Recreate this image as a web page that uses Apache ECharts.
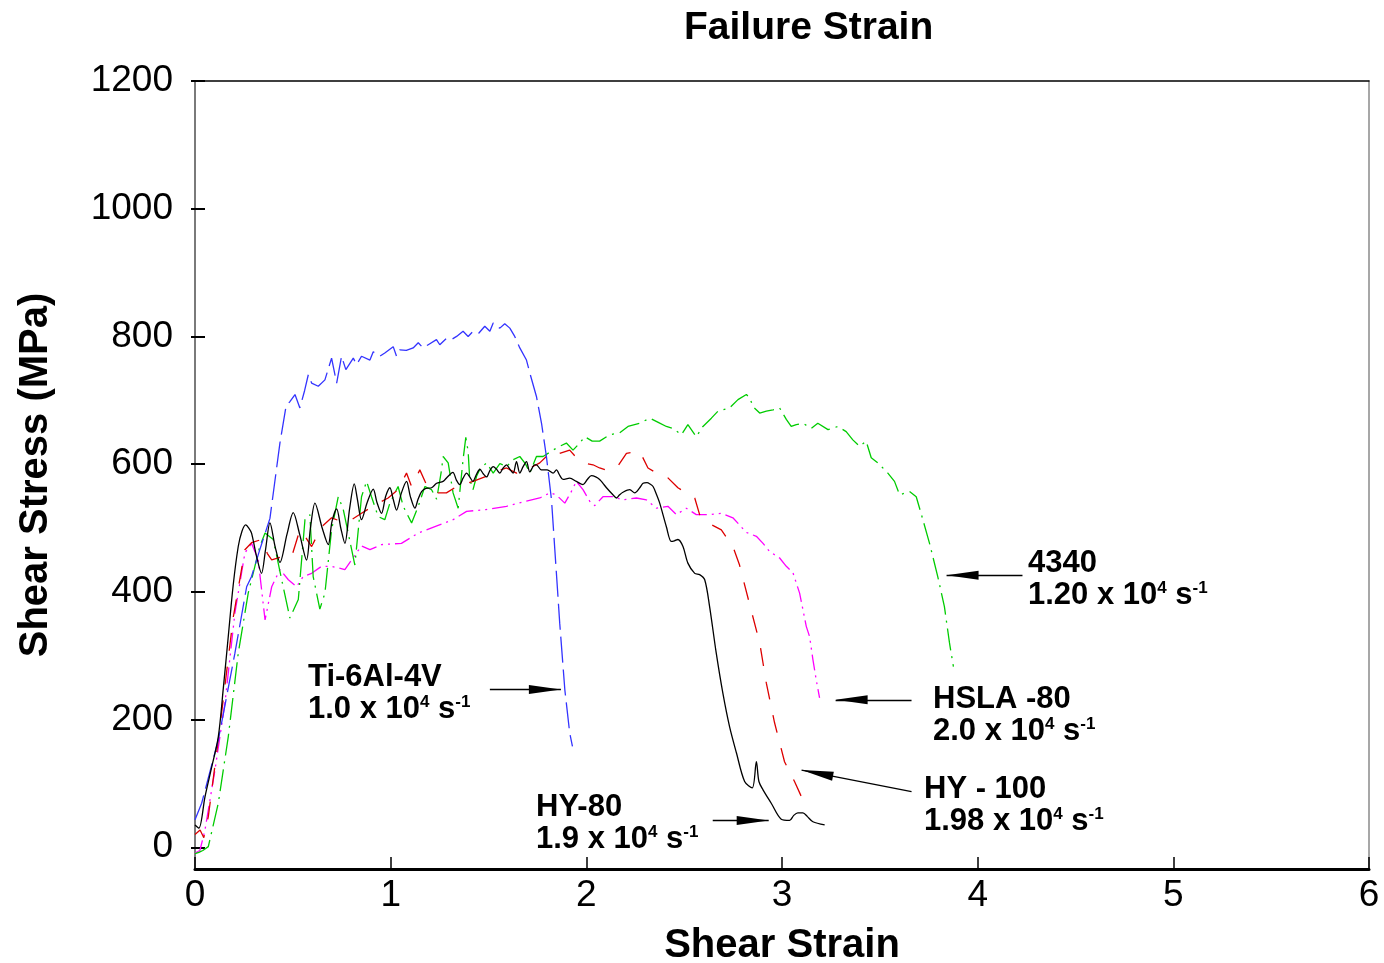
<!DOCTYPE html>
<html>
<head>
<meta charset="utf-8">
<script src="https://cdn.jsdelivr.net/npm/echarts@6.0.0/dist/echarts.min.js"></script>
<style>
    html, body { margin: 0; padding: 0; background: #fff; }
    #chart { width: 1384px; height: 963px; }
</style>
</head>
<body>
<div id="chart"></div>
<script>
// shear strain / shear stress (MPa)
const hy80 = [
    [0, 35], [0.02, 30], [0.051, 79], [0.085, 125], [0.119, 173], [0.145, 250], [0.17, 330], [0.195, 410],
    [0.221, 471], [0.24, 495], [0.259, 505], [0.275, 500], [0.289, 492], [0.315, 455], [0.34, 429], [0.36, 465],
    [0.383, 508], [0.41, 470], [0.434, 446], [0.47, 490], [0.502, 524], [0.535, 490], [0.57, 450], [0.59, 500],
    [0.613, 539], [0.65, 500], [0.681, 474], [0.7, 510], [0.724, 530], [0.745, 500], [0.766, 476], [0.79, 530],
    [0.814, 569], [0.83, 545], [0.851, 513], [0.88, 540], [0.911, 561], [0.93, 540], [0.953, 523], [0.975, 550],
    [0.996, 563], [1.013, 545], [1.03, 528], [1.055, 555], [1.081, 573], [1.1, 550], [1.124, 531], [1.14, 545],
    [1.158, 557], [1.18, 562], [1.209, 563], [1.235, 570], [1.268, 573], [1.29, 580], [1.318, 587], [1.336, 575],
    [1.353, 568], [1.37, 578], [1.388, 586], [1.404, 580], [1.42, 573], [1.44, 585], [1.456, 592], [1.473, 585],
    [1.49, 580], [1.507, 590], [1.524, 596], [1.541, 592], [1.558, 586], [1.575, 594], [1.592, 599], [1.609, 592],
    [1.626, 586], [1.643, 604], [1.66, 586], [1.677, 596], [1.694, 604], [1.711, 588], [1.736, 599], [1.745, 599],
    [1.77, 591], [1.8, 591], [1.83, 586], [1.847, 591], [1.865, 582], [1.881, 576], [1.915, 578], [1.949, 573],
    [1.983, 568], [2.005, 576], [2.026, 582], [2.048, 580], [2.068, 576], [2.085, 570], [2.103, 563], [2.136, 552],
    [2.154, 547], [2.17, 552], [2.187, 556], [2.222, 560], [2.247, 555], [2.273, 563], [2.29, 570], [2.31, 571],
    [2.325, 569], [2.341, 565], [2.358, 553], [2.375, 539], [2.409, 502], [2.434, 479], [2.45, 480], [2.468, 482],
    [2.494, 471], [2.519, 445], [2.554, 429], [2.579, 427], [2.605, 419], [2.63, 377], [2.664, 304], [2.698, 241],
    [2.732, 189], [2.767, 148], [2.809, 103], [2.848, 93], [2.869, 134], [2.882, 103], [2.903, 90], [2.945, 69],
    [2.996, 44], [3.039, 42], [3.06, 50], [3.081, 54], [3.107, 54], [3.13, 48], [3.158, 40], [3.218, 35]
];

const ti6al4v = [
    [0, 43], [0.034, 69], [0.119, 168], [0.204, 304], [0.264, 408], [0.289, 424], [0.33, 465], [0.383, 515],
    [0.434, 633], [0.465, 690], [0.485, 698], [0.511, 709], [0.536, 688], [0.56, 715], [0.579, 740], [0.596, 727],
    [0.63, 722], [0.664, 732], [0.698, 766], [0.724, 727], [0.749, 769], [0.771, 748], [0.809, 766], [0.826, 756],
    [0.851, 769], [0.894, 763], [0.911, 776], [0.945, 769], [0.97, 774], [1.013, 784], [1.03, 769], [1.047, 779],
    [1.08, 778], [1.115, 782], [1.141, 790], [1.166, 782], [1.192, 787], [1.234, 795], [1.251, 787], [1.285, 797],
    [1.31, 795], [1.337, 800], [1.37, 808], [1.396, 800], [1.421, 808], [1.45, 805], [1.481, 816], [1.507, 808],
    [1.524, 821], [1.545, 815], [1.558, 813], [1.583, 820], [1.609, 813], [1.634, 800], [1.66, 782], [1.694, 763],
    [1.711, 743], [1.745, 706], [1.771, 664], [1.796, 612], [1.822, 544], [1.839, 466], [1.856, 388], [1.864, 351],
    [1.89, 247], [1.915, 179], [1.929, 158]
];

const aisi4340 = [
    [0, -10], [0.02, -8], [0.04, -5], [0.068, 1], [0.119, 69], [0.17, 173], [0.221, 304], [0.272, 398],
    [0.306, 440], [0.33, 470], [0.358, 492], [0.4, 482], [0.443, 419], [0.485, 359], [0.528, 388], [0.562, 513],
    [0.587, 521], [0.604, 424], [0.638, 373], [0.664, 398], [0.698, 497], [0.732, 549], [0.757, 530], [0.783, 492],
    [0.817, 442], [0.851, 549], [0.877, 573], [0.902, 549], [0.936, 518], [0.97, 513], [0.996, 539], [1.038, 565],
    [1.064, 534], [1.107, 508], [1.141, 534], [1.175, 565], [1.209, 560], [1.235, 545], [1.26, 591], [1.268, 612],
    [1.294, 602], [1.319, 555], [1.345, 531], [1.37, 607], [1.384, 642], [1.396, 620], [1.404, 576], [1.421, 560],
    [1.439, 581], [1.456, 592], [1.49, 602], [1.524, 586], [1.558, 601], [1.592, 596], [1.626, 607], [1.66, 612],
    [1.69, 600], [1.711, 586], [1.745, 612], [1.779, 612], [1.83, 622], [1.864, 628], [1.898, 633], [1.932, 622],
    [1.966, 633], [1.992, 643], [2.03, 636], [2.068, 636], [2.119, 646], [2.17, 649], [2.213, 659], [2.273, 664],
    [2.324, 672], [2.37, 665], [2.409, 659], [2.443, 656], [2.486, 646], [2.519, 662], [2.562, 643], [2.596, 659],
    [2.639, 672], [2.673, 683], [2.732, 688], [2.775, 701], [2.818, 709], [2.835, 704], [2.852, 690], [2.886, 680],
    [2.92, 683], [2.954, 685], [2.988, 688], [3.022, 670], [3.047, 659], [3.073, 662], [3.107, 664], [3.15, 656],
    [3.183, 664], [3.235, 654], [3.286, 659], [3.328, 651], [3.362, 638], [3.396, 628], [3.43, 636], [3.456, 610],
    [3.49, 602], [3.541, 586], [3.575, 573], [3.601, 552], [3.652, 557], [3.686, 549], [3.72, 513], [3.754, 476],
    [3.796, 424], [3.83, 377], [3.856, 320], [3.876, 283]
];

const hy100 = [
    [0, 20], [0.026, 27], [0.045, 15], [0.068, 48], [0.119, 168], [0.196, 361], [0.255, 466], [0.289, 477],
    [0.34, 482], [0.37, 460], [0.392, 450], [0.443, 455], [0.494, 455], [0.536, 497], [0.566, 485], [0.596, 471],
    [0.647, 502], [0.698, 516], [0.749, 510], [0.8, 513], [0.851, 523], [0.919, 536], [0.987, 547], [1.038, 560],
    [1.081, 586], [1.107, 565], [1.149, 591], [1.183, 568], [1.234, 555], [1.285, 555], [1.337, 565], [1.37, 568],
    [1.421, 573], [1.49, 581], [1.541, 589], [1.592, 594], [1.643, 586], [1.694, 591], [1.762, 602], [1.796, 612],
    [1.83, 608], [1.864, 617], [1.915, 622], [1.95, 610], [1.983, 602], [2.034, 599], [2.068, 594], [2.11, 590],
    [2.154, 594], [2.205, 617], [2.273, 620], [2.315, 594], [2.36, 586], [2.409, 581], [2.468, 563], [2.51, 555],
    [2.554, 547], [2.579, 521], [2.622, 508], [2.69, 497], [2.749, 471], [2.783, 442], [2.835, 380], [2.886, 320],
    [2.92, 257], [2.962, 195], [3.013, 134], [3.064, 103], [3.107, 74]
];

const hsla80 = [
    [0, -9], [0.025, -5], [0.051, 27], [0.102, 121], [0.153, 226], [0.204, 367], [0.255, 461], [0.289, 476],
    [0.323, 450], [0.358, 356], [0.392, 408], [0.434, 435], [0.477, 419], [0.519, 408], [0.553, 424], [0.596, 429],
    [0.647, 440], [0.698, 440], [0.766, 435], [0.8, 450], [0.851, 472], [0.894, 466], [0.953, 474], [1.055, 476],
    [1.141, 492], [1.226, 502], [1.319, 513], [1.388, 526], [1.49, 529], [1.592, 534], [1.694, 542], [1.762, 547],
    [1.813, 555], [1.835, 553], [1.856, 549], [1.89, 539], [1.92, 555], [1.949, 573], [1.983, 560], [2.017, 542],
    [2.043, 535], [2.085, 549], [2.136, 549], [2.187, 544], [2.256, 547], [2.307, 544], [2.358, 531], [2.417, 534],
    [2.46, 521], [2.511, 531], [2.562, 521], [2.63, 521], [2.69, 523], [2.749, 516], [2.818, 493], [2.869, 487],
    [2.903, 476], [2.937, 463], [2.988, 453], [3.022, 440], [3.056, 430], [3.09, 398], [3.124, 346], [3.141, 330],
    [3.158, 294], [3.175, 262], [3.192, 234]
];

const yTickValues = [0, 200, 400, 600, 800, 1000, 1200];

// label arrows: [from, to] in data coordinates
const tiArrow = [[1.507, 247], [1.87, 247]];
const arrow4340 = [[4.229, 426], [3.841, 426]];
const hslaArrow = [[3.662, 231], [3.274, 231]];
const hy100Arrow = [[3.662, 87], [3.1, 121]];
const hy80Arrow = [[2.646, 42], [2.932, 42]];

const labelTi = ["Ti-6Al-4V", "1.0 x 10", "4", " s", "-1"];
const label4340 = ["4340", "1.20 x 10", "4", " s", "-1"];
const labelHsla = ["HSLA -80", "2.0 x 10", "4", " s", "-1"];
const labelHy100 = ["HY - 100", "1.98 x 10", "4", " s", "-1"];
const labelHy80 = ["HY-80", "1.9 x 10", "4", " s", "-1"];

const FONT = "'Liberation Sans', Arial, sans-serif";

const arrowMark = pts => ({
    silent: true,
    symbol: ["none", "triangle"],
    symbolSize: [9, 32],
    // pull the head back so its tip sits on the end point
    symbolOffset: [0, [0, 16]],
    label: { show: false },
    lineStyle: { color: "#000", width: 1.3, type: "solid" },
    itemStyle: { color: "#000" },
    emphasis: { disabled: true },
    data: [[{ coord: pts[0] }, { coord: pts[1] }]]
});

const curve = (name, data, color, dash, arrow, smooth) => ({
    name: name,
    type: "line",
    data: data,
    symbol: "none",
    smooth: smooth || false,
    lineStyle: { color: color, width: 1.3, type: dash },
    markLine: arrowMark(arrow),
    z: 3
});

const labelText = (parts, left, top) => ({
    type: "text",
    left: left,
    top: top,
    style: {
        text: "{b|" + parts[0] + "}\n{b|" + parts[1] + "}{s|" + parts[2] + "}{b|" + parts[3] + "}{s|" + parts[4] + "}",
        rich: {
            b: { fontSize: 31, fontWeight: "bold", fontFamily: FONT, lineHeight: 32, fill: "#000", color: "#000" },
            s: { fontSize: 17, fontWeight: "bold", fontFamily: FONT, lineHeight: 8, verticalAlign: "top", fill: "#000", color: "#000" }
        }
    }
});

const chart = echarts.init(document.getElementById("chart"));

const option = {
    backgroundColor: "#fff",
    animation: false,
    title: {
        text: "Failure Strain",
        left: 684,
        top: 9,
        padding: 0,
        textStyle: { fontSize: 39, fontWeight: "bold", fontFamily: FONT, color: "#000" }
    },
    grid: { left: 195, right: 15, top: 81, bottom: 94, outerBoundsMode: "none", containLabel: false },
    xAxis: [
        {
            type: "value",
            min: 0,
            max: 6,
            interval: 1,
            name: "Shear Strain",
            nameLocation: "middle",
            nameGap: 57,
            nameTextStyle: { fontSize: 40, fontWeight: "bold", fontFamily: FONT, color: "#000" },
            axisLine: { onZero: false, lineStyle: { color: "#000", width: 3 } },
            axisTick: { inside: true, length: 12, lineStyle: { color: "#000", width: 1.5 } },
            axisLabel: { margin: 8, fontSize: 37, fontFamily: FONT, color: "#000" },
            splitLine: { show: false }
        },
        {
            type: "value",
            position: "top",
            min: 0,
            max: 6,
            axisLine: { show: true, onZero: false, lineStyle: { color: "#000", width: 1.5 } },
            axisTick: { show: false },
            axisLabel: { show: false },
            splitLine: { show: false }
        }
    ],
    yAxis: [
        {
            type: "value",
            min: -34,
            max: 1200,
            name: "Shear Stress (MPa)",
            nameLocation: "middle",
            nameGap: 139,
            nameTextStyle: { fontSize: 40, fontWeight: "bold", fontFamily: FONT, color: "#000" },
            axisLine: { show: true, onZero: false, lineStyle: { color: "#7a7a7a", width: 2 } },
            axisTick: { show: true, length: 4, customValues: yTickValues, lineStyle: { color: "#000", width: 2 } },
            axisLabel: {
                margin: 22,
                fontSize: 37,
                fontFamily: FONT,
                color: "#000",
                customValues: yTickValues,
                formatter: v => String(v)
            },
            splitLine: { show: false }
        },
        {
            type: "value",
            position: "right",
            min: -34,
            max: 1200,
            axisLine: { show: true, onZero: false, lineStyle: { color: "#8a8a8a", width: 1.5 } },
            axisTick: { show: false },
            axisLabel: { show: false },
            splitLine: { show: false }
        },
        {
            type: "value",
            position: "left",
            min: -34,
            max: 1200,
            axisLine: { show: false },
            axisTick: { show: true, inside: true, length: 10, customValues: yTickValues, lineStyle: { color: "#000", width: 2 } },
            axisLabel: { show: false },
            splitLine: { show: false }
        }
    ],
    series: [
        curve("HSLA-80", hsla80, "#ff00ff", [16, 5, 2, 5, 2, 5], hslaArrow),
        curve("4340", aisi4340, "#00cc00", [22, 6, 2, 6], arrow4340),
        curve("HY-100", hy100, "#dd0000", [18, 16], hy100Arrow),
        curve("Ti-6Al-4V", ti6al4v, "#3333ff", [26, 7], tiArrow),
        curve("HY-80", hy80, "#000000", "solid", hy80Arrow, 0.3)
    ],
    graphic: [
        labelText(labelTi, 308, 662),
        labelText(label4340, 1028, 548),
        labelText(labelHsla, 933, 684),
        labelText(labelHy100, 924, 774),
        labelText(labelHy80, 536, 792)
    ]
};

chart.setOption(option);
</script>
</body>
</html>
